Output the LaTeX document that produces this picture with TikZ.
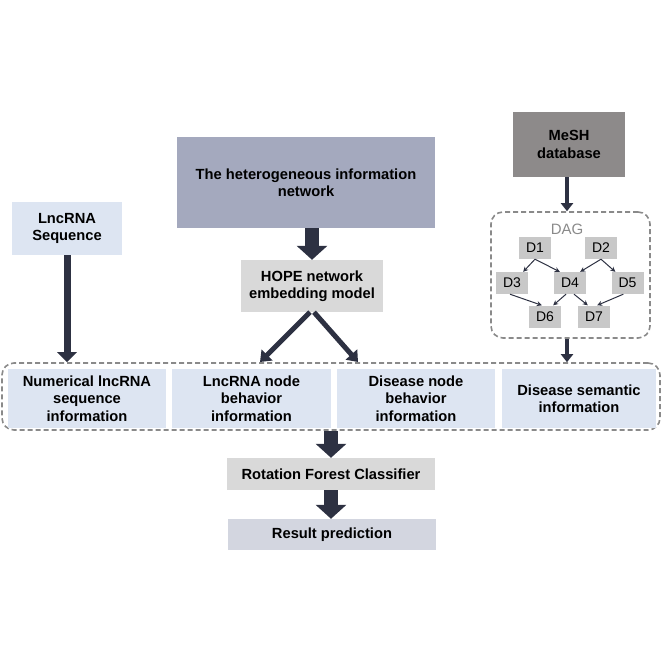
\documentclass[tikz,border=0pt]{standalone}
\usepackage{fontspec}
\setmainfont{Liberation Sans}
\usepackage{tikz}
\usetikzlibrary{arrows.meta}
\definecolor{navy}{HTML}{2D3142}
\definecolor{netfill}{HTML}{A4A9BE}
\definecolor{meshfill}{HTML}{8D8A8A}
\definecolor{lgray}{HTML}{D9D9D9}
\definecolor{dgray}{HTML}{C8C8C8}
\definecolor{lblue}{HTML}{DDE5F2}
\definecolor{resfill}{HTML}{D3D6E0}
\definecolor{dashgray}{HTML}{8A8A8A}

\begin{document}
\begin{tikzpicture}[x=1pt,y=-1pt,
    box/.style={inner sep=0pt, align=center, font=\bfseries\fontsize{14.7}{17.5}\selectfont},
    dnode/.style={fill=dgray, inner sep=0pt, minimum width=32pt, minimum height=22pt, font=\fontsize{14}{16}\selectfont},
    frame/.style={draw=dashgray, dashed, dash pattern=on 5pt off 3pt, line width=1.6pt, rounded corners=12pt, inner sep=0pt},
    thin/.style={navy, line width=1pt, -{Stealth[length=5pt,width=5pt]}},
    mid/.style={navy, line width=4pt, -{Triangle[length=8pt,width=12pt]}},
    fat/.style={navy, line width=7pt, -{Triangle[length=10pt,width=19pt]}},
    slant/.style={navy, line width=5pt, -{Triangle[length=10pt,width=15pt]}},
    block/.style={navy, line width=14pt, -{Triangle[length=14pt,width=30pt]}}]

    \useasboundingbox (0,0) rectangle (664,664);

%the top row
    \node[box, fill=meshfill, minimum width=112pt, minimum height=65pt] (mesh) at (569,144.5) {MeSH\\database};
    \node[box, fill=netfill, minimum width=258pt, minimum height=91pt] (net) at (306,182.5) {The heterogeneous information\\network};
    \node[box, fill=lblue, minimum width=110pt, minimum height=53pt] (seq) at (67,228.5) {LncRNA\\Sequence};
    \node[box, fill=lgray, minimum width=142pt, minimum height=52pt] (hope) at (312,286) {HOPE network\\embedding model};

%the DAG
    \node[frame, minimum width=159pt, minimum height=126pt] (dag) at (570.5,275) {};
    \node[dashgray, font=\fontsize{15}{17}\selectfont] (daglabel) at (567,229) {DAG};
    \node[dnode] (D1) at (535,248) {D1};
    \node[dnode] (D2) at (601,248) {D2};
    \node[dnode] (D3) at (512,283) {D3};
    \node[dnode] (D4) at (570,283) {D4};
    \node[dnode] (D5) at (627.5,283) {D5};
    \node[dnode] (D6) at (545,316.5) {D6};
    \node[dnode] (D7) at (594,316.5) {D7};
    \draw[thin] (D1.south) -- ([xshift=-5pt]D3.north east);
    \draw[thin] (D1.south) -- ([xshift=6pt]D4.north west);
    \draw[thin] (D2.south) -- ([xshift=-6pt]D4.north east);
    \draw[thin] (D2.south) -- ([xshift=4pt]D5.north west);
    \draw[thin] ([xshift=-2pt]D3.south) -- ([xshift=13pt]D6.north west);
    \draw[thin] ([xshift=-4pt]D4.south) -- ([xshift=-8pt]D6.north east);
    \draw[thin] ([xshift=4pt]D4.south) -- ([xshift=10pt]D7.north west);
    \draw[thin] ([xshift=12pt]D5.south west) -- ([xshift=-13pt]D7.north east);

%the feature panel
    \node[frame, minimum width=658pt, minimum height=67pt] (panel) at (331,396.5) {};
    \node[box, fill=lblue, minimum width=158pt, minimum height=59pt] (num) at (87,398.5) {Numerical lncRNA\\sequence\\information};
    \node[box, fill=lblue, minimum width=159pt, minimum height=59pt] (lnode) at (251.5,398.5) {LncRNA node\\behavior\\information};
    \node[box, fill=lblue, minimum width=158pt, minimum height=59pt] (dnode) at (416,398.5) {Disease node\\behavior\\information};
    \node[box, fill=lblue, minimum width=154pt, minimum height=59pt] (sem) at (579,398.5) {Disease semantic\\information};

%the classifier
    \node[box, fill=lgray, minimum width=208pt, minimum height=32pt] (rot) at (331,474) {Rotation Forest Classifier};
    \node[box, fill=resfill, minimum width=208pt, minimum height=31pt] (res) at (332,534.5) {Result prediction};

%the arrows
    \coordinate (hl) at (260,362);
    \coordinate (hr) at (358,362);
    \draw[mid] (mesh.south -| daglabel) -- (dag.north -| daglabel);
    \draw[mid] (dag.south -| daglabel) -- (panel.north -| daglabel);
    \draw[block] (net.south -| hope.north) -- (hope.north);
    \draw[fat] (seq.south) -- (panel.north -| seq.south);
    \draw[slant] ([xshift=-2pt]hope.south) -- (hl);
    \draw[slant] ([xshift=2pt]hope.south) -- (hr);
    \draw[block] (panel.south -| rot.north) -- (rot.north);
    \draw[block] (rot.south) -- (rot.south |- res.north);
\end{tikzpicture}
\end{document}
